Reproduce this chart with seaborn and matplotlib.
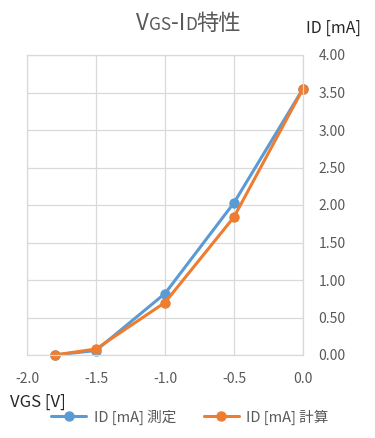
import matplotlib
matplotlib.use("Agg")
import matplotlib.pyplot as plt
import pandas as pd
import seaborn as sns

vgs = [-1.8, -1.5, -1.0, -0.5, 0.0]
id_measured = [0.0, 0.06, 0.82, 2.03, 3.55]
id_calc = [0.0, 0.08, 0.70, 1.84, 3.55]
series_names = ["ID [mA] 測定", "ID [mA] 計算"]
x_ticks = [-2.0, -1.5, -1.0, -0.5, 0.0]
y_ticks = [0.0, 0.5, 1.0, 1.5, 2.0, 2.5, 3.0, 3.5, 4.0]

sns.set_theme(style="white")
plt.rcParams["font.family"] = ["Noto Sans CJK JP", "DejaVu Sans"]
plt.rcParams["axes.unicode_minus"] = False

df = pd.DataFrame({
    "vgs": vgs + vgs,
    "id": id_measured + id_calc,
    "series": [series_names[0]] * len(vgs) + [series_names[1]] * len(vgs),
})

W, H = 375, 438
fig = plt.figure(figsize=(W / 100, H / 100), dpi=100)
ax = fig.add_axes([27 / W, 1 - 355 / H, 276 / W, 300 / H])

sns.lineplot(
    data=df, x="vgs", y="id", hue="series", hue_order=series_names,
    palette=["#5B9BD5", "#ED7D31"], marker="o", markersize=7.5,
    markeredgewidth=0, linewidth=2.2, ax=ax, clip_on=False,
)

ax.set_xlim(-2.0, 0.0)
ax.set_ylim(0, 4.0)
ax.set_xticks(x_ticks)
ax.set_yticks(y_ticks)
ax.set_xticklabels([f"{v:.1f}" for v in x_ticks])
ax.set_yticklabels([f"{v:.2f}" for v in y_ticks])
ax.yaxis.tick_right()
ax.tick_params(axis="x", length=0, pad=12, labelsize=10, labelcolor="#595959")
ax.tick_params(axis="y", length=0, pad=11, labelsize=10, labelcolor="#595959")
ax.grid(True, color="#d9d9d9", linewidth=0.9)
for sp in ax.spines.values():
    sp.set_color("#d9d9d9")
    sp.set_linewidth(0.9)
ax.set_xlabel("")
ax.set_ylabel("")

handles, labels = ax.get_legend_handles_labels()
ax.get_legend().remove()
fig.legend(
    handles, labels, loc="center", bbox_to_anchor=(190 / W, 1 - 417 / H),
    ncol=2, frameon=False, fontsize=10.5, labelcolor="#595959",
    handlelength=2.4, columnspacing=1.9, handletextpad=0.5,
)

fig.text(333 / W, 1 - 28 / H, "ID [mA]", ha="center", va="center",
         fontsize=11.5, color="#262626")
fig.text(10 / W, 1 - 402 / H, "VGS [V]", ha="left", va="center",
         fontsize=12, color="#262626")

# title with small-caps subscripts, laid out piece by piece on one baseline
title_parts = [("V", 16), ("GS", 12.5), ("-I", 16), ("D", 12.5), ("特性", 16)]
renderer = fig.canvas.get_renderer()
texts = []
for s, size in title_parts:
    t = fig.text(0, H - 30, s, fontsize=size, color="#595959",
                 ha="left", va="baseline", transform=None)
    texts.append(t)
widths = [t.get_window_extent(renderer).width for t in texts]
x = 188.5 - sum(widths) / 2
for t, w in zip(texts, widths):
    t.set_x(x)
    x += w

fig.savefig("out.png", dpi=100)
